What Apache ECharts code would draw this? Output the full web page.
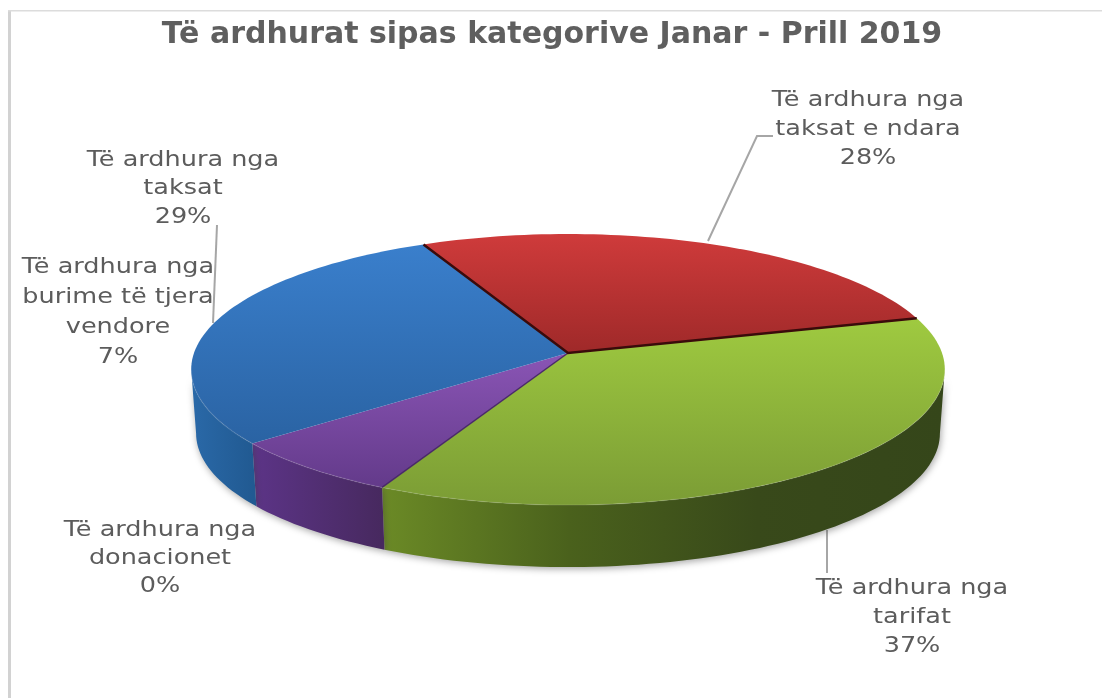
<!DOCTYPE html>
<html>
<head>
<meta charset="utf-8">
<style>html,body{margin:0;padding:0;background:#fff}#c{width:1102px;height:698px}</style>
<script src="https://cdn.jsdelivr.net/npm/echarts@6/dist/echarts.min.js"></script>
</head>
<body>
<div id="c"></div>
<script>
const titleText = 'Të ardhurat sipas kategorive Janar - Prill 2019';
const categories = ['Të ardhura nga\ntaksat e ndara','Të ardhura nga\ntarifat','Të ardhura nga\ndonacionet','Të ardhura nga\nburime të tjera\nvendore','Të ardhura nga\ntaksat'];
const values = [28,37,0,7,29];

// layout and styling, kept apart from the data
const faceStops = [['#cf3b3b','#9f2929'],['#9fca40','#7b9c35'],['#8a55b5','#633a8a'],['#8a55b5','#633a8a'],['#3a7fcc','#2a63a3']];
const wallStops = [['#7a1f1f','#7a1f1f'],['#6b8a26','#4a611c','#38491a','#35461a'],['#5a3380','#47295f'],['#5c3487','#47295f'],['#2a69a8','#215a92']];
const labelAt = [[868,100],[912,588],[160,530],[118,267],[183,160]];
const labelLine = [29,29,28,30,28.5];
const leaders = [[[708,241],[757,136],[773,136]],[[827,530],[827,573]],[[213,323],[217,225]]];
const startDeg = -25.4, ax = 568, ay = 353, R = 374, H = 133.5, K = 0.122, depth = 64, shrink = 0.987;
const textStretch = 1.16;

const total = values.reduce((a,b)=>a+b,0);
function project(deg, lower){
  const t = deg*Math.PI/180, u = Math.sin(t), v = -Math.cos(t), s = 1/(1-K*v), f = lower?shrink:1;
  return [ax + f*R*u*s, ay + (lower?depth:0) + f*H*v*s];
}
function arc(a,b,lower){
  const n = Math.max(2,Math.ceil(Math.abs(b-a)/1.5)), p=[];
  for(let i=0;i<=n;i++) p.push(project(a+(b-a)*i/n,lower));
  return p;
}
function spans(){
  let d = startDeg;
  return values.map(v=>{const a=d; d+=v/total*360; return [a,d];});
}
const ranges = spans();
const wallMin = 97, wallMax = 263;

function grad(x,y,x2,y2,c){
  return {type:'linear',x,y,x2,y2,global:true,colorStops:c.map((col,i)=>({offset:i/(c.length-1),color:col}))};
}
function renderSlice(params){
  const i = params.dataIndex, r = ranges[i], children=[];
  if(values[i]>0){
    const a = Math.max(r[0],wallMin), b = Math.min(r[1],wallMax);
    if(b>a){
      const top = arc(a,b,false), low = arc(a,b,true).reverse();
      children.push({type:'polygon',shape:{points:top.concat(low)},
        style:{fill:grad(top[top.length-1][0],0,top[0][0],0,wallStops[i]),shadowBlur:7,shadowColor:'rgba(60,60,60,0.45)',shadowOffsetX:1,shadowOffsetY:2}});
    }
    const rim = arc(r[0],r[1],false);
    const pts = [[ax,ay]].concat(rim);
    const ys = pts.map(p=>p[1]);
    children.push({type:'polygon',shape:{points:pts},
      style:{fill:grad(0,Math.min.apply(null,ys),0,Math.max.apply(null,ys),faceStops[i])}, z2:5});
    if(b>a){
      children.push({type:'polyline',shape:{points:arc(a,b,false)},
        style:{fill:null,stroke:'rgba(255,255,255,0.09)',lineWidth:1.5}, z2:6});
    }
    if(i===0){
      children.push({type:'polyline',shape:{points:[rim[rim.length-1],[ax,ay],rim[0]]},
        style:{fill:null,stroke:'#3a0b0b',lineWidth:2.5}, z2:7});
    } else if(i===3){
      children.push({type:'polyline',shape:{points:[[ax,ay],rim[0]]},
        style:{fill:null,stroke:'#4a2a68',lineWidth:1.5}, z2:6});
    }
  }
  const name = categories[i].split('\n').concat(values[i]+'%');
  name.forEach((t,k)=>{
    children.push({type:'text',z2:10,x:labelAt[i][0],y:labelAt[i][1]+k*labelLine[i],scaleX:textStretch,
      style:{text:t,fill:'#5c5c5c',font:'22px "DejaVu Sans"',align:'center',verticalAlign:'middle'}});
  });
  return {type:'group',children};
}

const chart = echarts.init(document.getElementById('c'),null,{renderer:'canvas'});
chart.setOption({
  backgroundColor:'#ffffff',
  animation:false,
  title:{text:titleText,left:547,top:15,textAlign:'center',
    textStyle:{color:'#5f5f5f',fontFamily:'DejaVu Sans',fontWeight:'bold',fontSize:30}},
  graphic:[
    {type:'rect',shape:{x:8,y:10,width:3,height:688},style:{fill:'#d2d2d2'},silent:true},
    {type:'rect',shape:{x:8,y:10,width:1094,height:1.5},style:{fill:'#dcdcdc'},silent:true}
  ].concat(leaders.map(p=>({type:'polyline',shape:{points:p},style:{fill:null,stroke:'#a6a6a6',lineWidth:2},silent:true,z:1}))),
  series:[{
    type:'custom',coordinateSystem:'none',silent:true,z:3,
    renderItem:renderSlice,
    data:categories.map((n,i)=>({name:n,value:values[i]}))
  }]
});
</script>
</body>
</html>
